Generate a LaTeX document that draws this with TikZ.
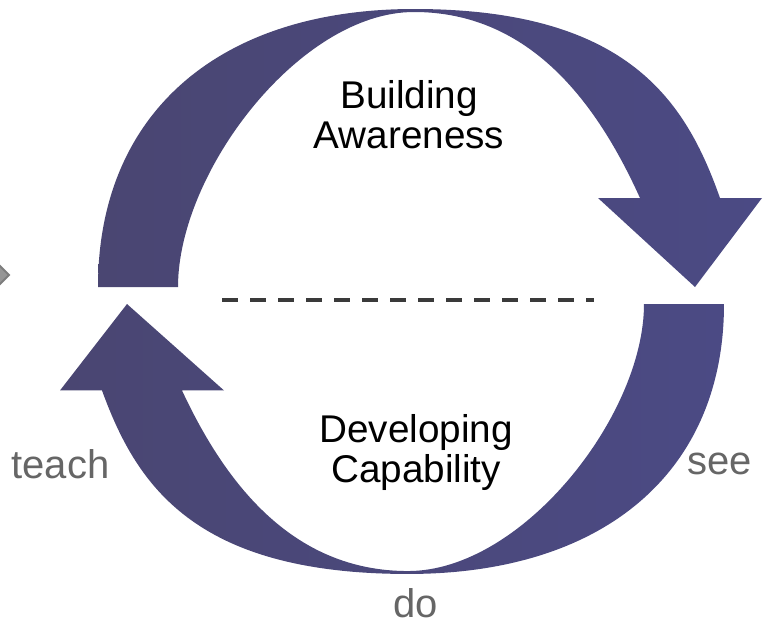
\documentclass[tikz,border=0pt]{standalone}
\usepackage{fontspec}
\setmainfont{Liberation Sans}
\usetikzlibrary{calc}

\definecolor{arrowdark}{RGB}{74,70,114}
\definecolor{arrowblue}{RGB}{75,74,132}
\definecolor{labelgray}{RGB}{102,102,102}
\definecolor{dashgray}{RGB}{58,58,58}

% one half of the cycle, drawn in pixel units
\newcommand{\halfcycle}{%
	(98,287) .. controls (98,115) and (217,9) .. (414,9)
	.. controls (629,9) and (686,102) .. (720,198)
	-- (762,198) -- (695,287) -- (598,198) -- (640,198)
	.. controls (597,103) and (530,12) .. (414,12)
	.. controls (300,12) and (178,172) .. (178,287) -- cycle}

\begin{document}
\begin{tikzpicture}[x=0.75pt,y=-0.75pt,
	cyclearrow/.style={left color=arrowdark,right color=arrowblue,draw=none},
	stage/.style={align=center,font=\fontsize{29}{30}\selectfont,inner sep=0pt},
	phase/.style={text=labelgray,font=\fontsize{30}{36}\selectfont,inner sep=0pt,anchor=base}]
	\useasboundingbox (0,0) rectangle (769,628);

	% The awareness arrow (top)
	\path[cyclearrow] \halfcycle;

	% The capability arrow (bottom), the same shape turned round
	\begin{scope}[shift={(822,582.7)},xscale=-1,yscale=-0.971]
		\path[cyclearrow] \halfcycle;
	\end{scope}

	% Cut-off marker at the left edge
	\path[fill={rgb,255:red,150;green,150;blue,150},draw={rgb,255:red,125;green,125;blue,125},line width=1.5pt]
		(-4,262) -- (9,275) -- (-4,288) -- (-17,275) -- cycle;

	% The two stages
	\node[stage] (aware) at (409,115) {Building\\Awareness};
	\node[stage] (capab) at (416,453) {Developing\\Capability};

	% Divider
	\coordinate (divL) at (222,300);
	\coordinate (divR) at (594,300);
	\draw[dashgray,line width=3pt,dash pattern=on 12pt off 9pt] (divL) -- (divR);

	% See, do, teach
	\node[phase] (teach) at (60.5,478) {teach};
	\node[phase] (see) at (719.5,474) {see};
	\node[phase] (do) at (416,617) {do};
\end{tikzpicture}
\end{document}
